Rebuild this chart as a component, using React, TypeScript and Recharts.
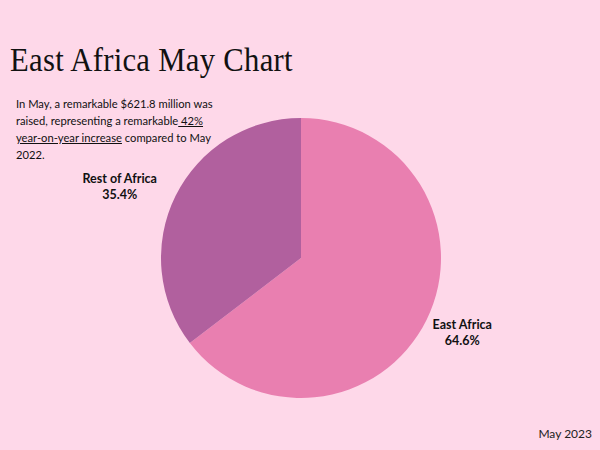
import { PieChart, Pie, Cell } from "recharts";

const regions = ["East Africa", "Rest of Africa"];
const shares = [64.6, 35.4];
const sliceColors = ["#e97fb0", "#b1609e"];

const data = regions.map((name, i) => ({ name, value: shares[i] }));

const RAD = Math.PI / 180;

// labels sit on a flattened ellipse around the pie, nudged a bit left
function renderLabel(props: any) {
  const { cx, cy, midAngle, outerRadius, name, value } = props;
  const x = cx + (outerRadius + 51) * Math.cos(-midAngle * RAD) - 10;
  const y = cy + (outerRadius + 24) * Math.sin(-midAngle * RAD);
  return (
    <text
      x={x}
      y={y}
      textAnchor="middle"
      fill="#111"
      fontFamily="Lato, 'Open Sans', sans-serif"
      fontWeight={700}
      fontSize={12.5}
    >
      <tspan x={x} dy={-2}>{name}</tspan>
      <tspan x={x} dy={16}>{`${value.toFixed(1)}%`}</tspan>
    </text>
  );
}

const underline = { textDecoration: "underline" };

export default function App() {
  return (
    <div
      style={{
        position: "absolute",
        left: 0,
        top: 0,
        width: 600,
        height: 450,
        background: "#fed8e9",
        overflow: "hidden",
      }}
    >
      <div
        style={{
          position: "absolute",
          left: 10,
          top: 42,
          fontFamily: "'Liberation Serif', 'DejaVu Serif', serif",
          fontSize: 33,
          color: "#111",
          whiteSpace: "nowrap",
          letterSpacing: 0.3,
          transform: "scaleX(0.93)",
          transformOrigin: "left top",
        }}
      >
        East Africa May Chart
      </div>
      <div
        style={{
          position: "absolute",
          left: 16,
          top: 95,
          width: 205,
          fontFamily: "Lato, 'Open Sans', sans-serif",
          fontSize: 11.2,
          lineHeight: "17px",
          color: "#111",
        }}
      >
        In May, a remarkable $621.8 million was
        <br />
        raised, representing a remarkable<span style={underline}> 42%</span>
        <br />
        <span style={underline}>year-on-year increase</span> compared to May
        <br />
        2022.
      </div>
      <div
        style={{
          position: "absolute",
          right: 8,
          top: 426,
          fontFamily: "Lato, 'Open Sans', sans-serif",
          fontSize: 12,
          color: "#222",
        }}
      >
        May 2023
      </div>
      <div style={{ position: "absolute", left: 0, top: 0 }}>
        <PieChart width={600} height={450} margin={{ top: 0, right: 0, bottom: 0, left: 0 }}>
          <Pie
            data={data}
            dataKey="value"
            nameKey="name"
            cx={301}
            cy={258}
            outerRadius={140}
            startAngle={90}
            endAngle={-270}
            stroke="none"
            label={renderLabel}
            labelLine={false}
            isAnimationActive={false}
          >
            {data.map((d, i) => (
              <Cell key={d.name} fill={sliceColors[i]} />
            ))}
          </Pie>
        </PieChart>
      </div>
    </div>
  );
}
